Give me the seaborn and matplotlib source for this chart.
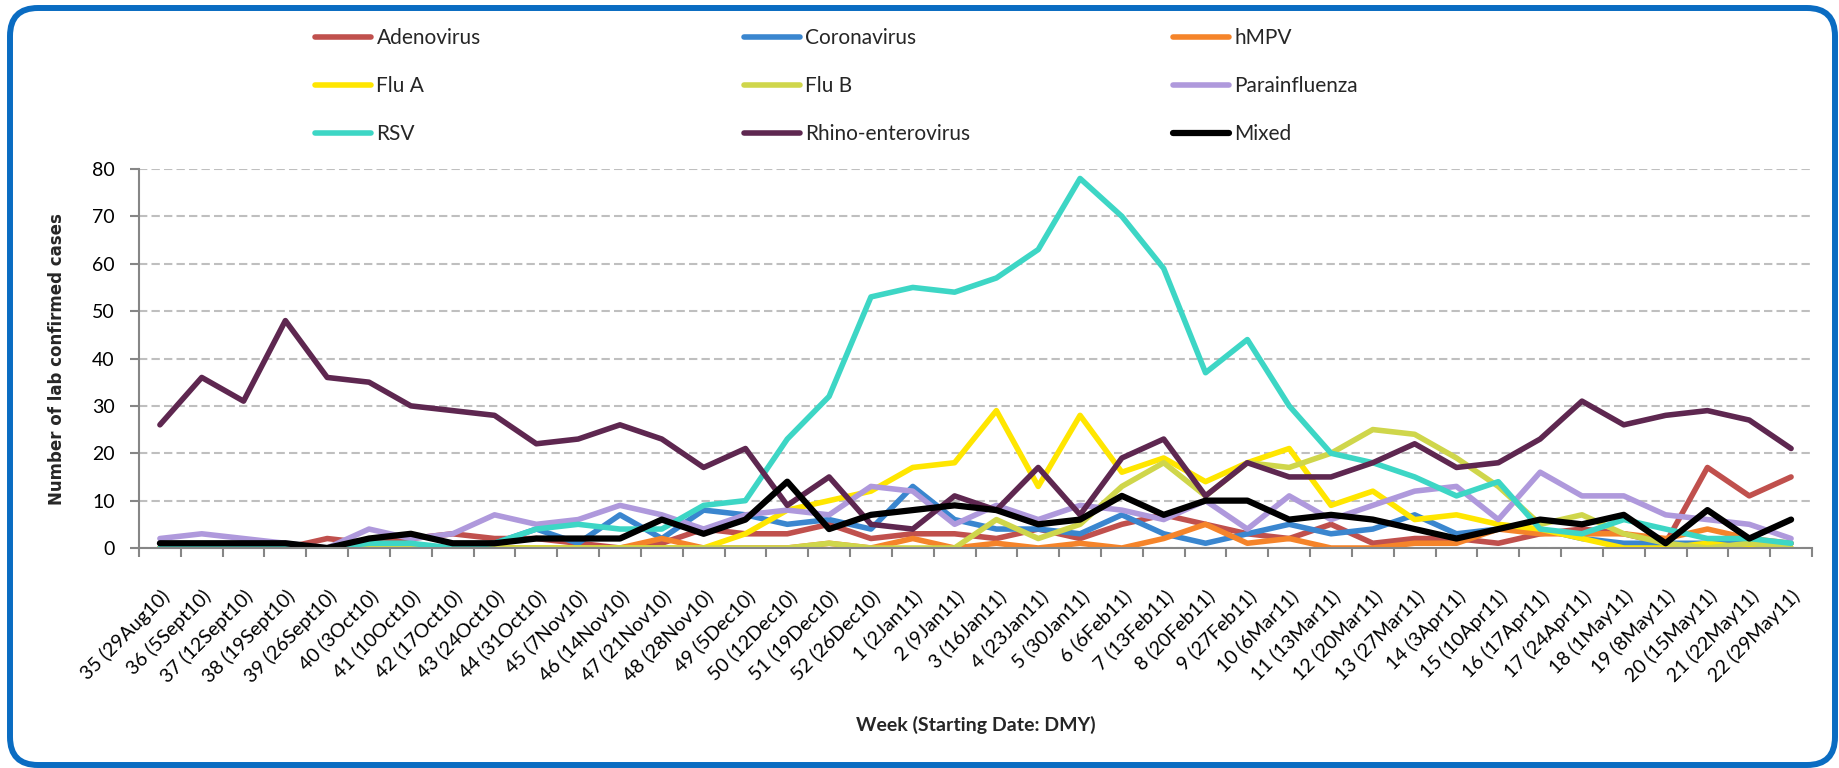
import matplotlib
matplotlib.use("Agg")

import matplotlib.pyplot as plt
import numpy as np
import seaborn as sns
from matplotlib.lines import Line2D
from matplotlib.patches import FancyBboxPatch

# ── Data ──────────────────────────────────────────────────────────────────────
weeks = [
    "35 (29Aug10)", "36 (5Sept10)", "37 (12Sept10)", "38 (19Sept10)", "39 (26Sept10)",
    "40 (3Oct10)", "41 (10Oct10)", "42 (17Oct10)", "43 (24Oct10)", "44 (31Oct10)",
    "45 (7Nov10)", "46 (14Nov10)", "47 (21Nov10)", "48 (28Nov10)", "49 (5Dec10)",
    "50 (12Dec10)", "51 (19Dec10)", "52 (26Dec10)", "1 (2Jan11)", "2 (9Jan11)",
    "3 (16Jan11)", "4 (23Jan11)", "5 (30Jan11)", "6 (6Feb11)", "7 (13Feb11)",
    "8 (20Feb11)", "9 (27Feb11)", "10 (6Mar11)", "11 (13Mar11)", "12 (20Mar11)",
    "13 (27Mar11)", "14 (3Apr11)", "15 (10Apr11)", "16 (17Apr11)", "17 (24Apr11)",
    "18 (1May11)", "19 (8May11)", "20 (15May11)", "21 (22May11)", "22 (29May11)",
]

adenovirus = [0, 0, 0, 0, 2, 1, 2, 3, 2, 2,
              1, 0, 1, 4, 3, 3, 5, 2, 3, 3,
              2, 4, 2, 5, 7, 5, 3, 2, 5, 1,
              2, 2, 1, 3, 4, 3, 1, 17, 11, 15]
coronavirus = [0, 0, 0, 0, 0, 0, 0, 0, 1, 4,
               1, 7, 2, 8, 7, 5, 6, 4, 13, 6,
               4, 4, 3, 7, 3, 1, 3, 5, 3, 4,
               7, 3, 4, 4, 2, 1, 1, 1, 1, 1]
hmpv = [0, 0, 0, 0, 0, 0, 0, 0, 0, 0,
        0, 0, 2, 0, 0, 0, 1, 0, 2, 0,
        1, 0, 1, 0, 2, 5, 1, 2, 0, 0,
        1, 1, 4, 3, 3, 3, 2, 4, 2, 1]
flu_a = [0, 0, 0, 0, 0, 0, 0, 0, 0, 0,
         0, 0, 0, 0, 3, 8, 10, 12, 17, 18,
         29, 13, 28, 16, 19, 14, 18, 21, 9, 12,
         6, 7, 5, 4, 2, 0, 0, 1, 0, 0]
flu_b = [0, 0, 0, 0, 0, 0, 0, 0, 0, 0,
         0, 0, 0, 0, 0, 0, 1, 0, 0, 0,
         6, 2, 5, 13, 18, 11, 18, 17, 20, 25,
         24, 19, 13, 5, 7, 3, 1, 0, 1, 0]
parainfluenza = [2, 3, 2, 1, 0, 4, 2, 3, 7, 5,
                 6, 9, 7, 4, 7, 8, 7, 13, 12, 5,
                 9, 6, 9, 8, 6, 10, 4, 11, 6, 9,
                 12, 13, 6, 16, 11, 11, 7, 6, 5, 2]
rsv = [0, 0, 0, 0, 0, 1, 1, 0, 1, 4,
       5, 4, 4, 9, 10, 23, 32, 53, 55, 54,
       57, 63, 78, 70, 59, 37, 44, 30, 20, 18,
       15, 11, 14, 4, 3, 6, 4, 2, 2, 1]
rhino = [26, 36, 31, 48, 36, 35, 30, 29, 28, 22,
         23, 26, 23, 17, 21, 9, 15, 5, 4, 11,
         8, 17, 7, 19, 23, 11, 18, 15, 15, 18,
         22, 17, 18, 23, 31, 26, 28, 29, 27, 21]
mixed = [1, 1, 1, 1, 0, 2, 3, 1, 1, 2,
         2, 2, 6, 3, 6, 14, 4, 7, 8, 9,
         8, 5, 6, 11, 7, 10, 10, 6, 7, 6,
         4, 2, 4, 6, 5, 7, 1, 8, 2, 6]

series = [
    ("Adenovirus", adenovirus, "#C0504D"),
    ("Coronavirus", coronavirus, "#3A86CF"),
    ("hMPV", hmpv, "#F5842A"),
    ("Flu A", flu_a, "#FFE600"),
    ("Flu B", flu_b, "#CFD64B"),
    ("Parainfluenza", parainfluenza, "#AF99DC"),
    ("RSV", rsv, "#3DD6C5"),
    ("Rhino-enterovirus", rhino, "#5E2750"),
    ("Mixed", mixed, "#000000"),
]
colors = {name: c for name, _, c in series}

# legend is laid out row-wise in the original, so group it by column here
legend_cols = [
    ["Adenovirus", "Flu A", "RSV"],
    ["Coronavirus", "Flu B", "Rhino-enterovirus"],
    ["hMPV", "Parainfluenza", "Mixed"],
]

W, H = 1840, 768
GRAY = "#868686"
LW, LW_MIXED = 4.0, 4.5

sns.set_theme(style="white")
plt.rcParams["font.family"] = ["Lato", "DejaVu Sans"]

fig = plt.figure(figsize=(W / 100, H / 100), dpi=100)
ax = fig.add_axes([139 / W, 1 - 548 / H, (1812 - 139) / W, (548 - 169) / H])

# ── Lines ─────────────────────────────────────────────────────────────────────
x = np.arange(len(weeks))
for name, vals, color in series:
    lw = LW_MIXED if name == "Mixed" else LW
    sns.lineplot(x=x, y=vals, color=color, linewidth=lw, ax=ax,
                 estimator=None, sort=False,
                 solid_joinstyle="round", solid_capstyle="round")

# ── Axes styling ──────────────────────────────────────────────────────────────
ax.set_xlim(-0.5, len(weeks) - 0.5)
ax.set_ylim(0, 80)
ax.set_yticks(range(0, 81, 10))
ax.yaxis.grid(True, color="#BFBFBF", linestyle=(0, (4, 2)), linewidth=1.5)
ax.xaxis.grid(False)
ax.set_axisbelow(True)
for side in ["top", "right"]:
    ax.spines[side].set_visible(False)
for side in ["left", "bottom"]:
    ax.spines[side].set_color(GRAY)
    ax.spines[side].set_linewidth(1.5)

ax.set_xticks(x)
ax.set_xticklabels(weeks, rotation=45, ha="right", rotation_mode="anchor")
ax.set_xticks(np.arange(-0.5, len(weeks), 1), minor=True)
ax.tick_params(axis="x", which="major", bottom=True, length=0, pad=28,
               labelsize=14, labelcolor="black")
ax.tick_params(axis="x", which="minor", bottom=True, length=6.5, width=1.5,
               color=GRAY, direction="out")
ax.tick_params(axis="y", left=True, length=6.5, width=1.5, color=GRAY,
               direction="out", pad=11, labelsize=14, labelcolor="black")
ax.set_xlabel("")
ax.set_ylabel("")

fig.text(57 / W, 1 - 359 / H, "Number of lab confirmed cases", rotation=90,
         ha="center", va="center", fontsize=12, fontweight="bold",
         family="DejaVu Sans")
fig.text(976 / W, 1 - 725 / H, "Week (Starting Date: DMY)", ha="center",
         va="center", fontsize=14, fontweight="bold")

# ── Legend: one block per column ──────────────────────────────────────────────
col_x = [315, 744, 1173]
for cx, names in zip(col_x, legend_cols):
    handles = [Line2D([], [], color=colors[n],
                      linewidth=LW_MIXED if n == "Mixed" else LW,
                      solid_capstyle="round") for n in names]
    fig.legend(handles, names, loc="center left",
               bbox_to_anchor=(cx / W, 1 - 86 / H), frameon=False, fontsize=15,
               handlelength=2.7, handletextpad=0.25, labelspacing=1.35,
               borderpad=0, borderaxespad=0)

# ── Rounded blue frame ────────────────────────────────────────────────────────
frame = FancyBboxPatch((10 / 100, (H - 765) / 100), (1835 - 10) / 100, (765 - 8) / 100,
                       boxstyle="round,pad=0,rounding_size=0.28",
                       transform=fig.dpi_scale_trans, facecolor="none",
                       edgecolor="#0A6CC2", linewidth=4.3)
fig.add_artist(frame)

fig.savefig("out.png", dpi=100)
plt.close(fig)
print("Done.")
